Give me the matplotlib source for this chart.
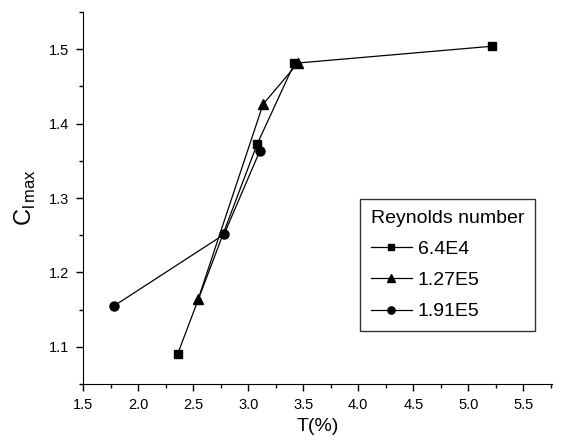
import matplotlib
matplotlib.use("Agg")
import matplotlib.pyplot as plt
from matplotlib.ticker import MultipleLocator

plt.rcParams["font.family"] = ["Liberation Sans", "DejaVu Sans"]
plt.rcParams["mathtext.fontset"] = "custom"
plt.rcParams["mathtext.rm"] = "Liberation Sans"

# thickness ratio T(%) vs maximum lift coefficient
t_64e4 = [2.36, 3.08, 3.42, 5.22]
cl_64e4 = [1.091, 1.372, 1.481, 1.504]

t_127e5 = [2.545, 3.135, 3.45]
cl_127e5 = [1.164, 1.426, 1.481]

t_191e5 = [1.78, 2.78, 3.105]
cl_191e5 = [1.155, 1.251, 1.363]

labels = ["6.4E4", "1.27E5", "1.91E5"]

fig = plt.figure(figsize=(5.62, 4.43), dpi=100)
ax = fig.add_axes([0.148, 0.133, 0.834, 0.84])

ax.plot(t_64e4, cl_64e4, "k-", marker="s", ms=6, lw=0.9, label=labels[0])
ax.plot(t_127e5, cl_127e5, "k-", marker="^", ms=6.5, lw=0.9, label=labels[1])
ax.plot(t_191e5, cl_191e5, "k-", marker="o", ms=6.5, lw=0.9, label=labels[2])

ax.set_xlim(1.5, 5.76)
ax.set_ylim(1.05, 1.55)
ax.xaxis.set_major_locator(MultipleLocator(0.5))
ax.xaxis.set_minor_locator(MultipleLocator(0.25))
ax.yaxis.set_major_locator(MultipleLocator(0.1))
ax.yaxis.set_minor_locator(MultipleLocator(0.05))
ax.tick_params(which="both", direction="out", width=1, labelsize=10.5)
ax.tick_params(which="major", length=5, pad=5)
ax.tick_params(which="minor", length=3)

for side in ["top", "right"]:
    ax.spines[side].set_visible(False)

ax.set_xlabel("T(%)", fontsize=14, labelpad=4)
ax.set_ylabel(r"C$_{\mathregular{l\,max}}$", fontsize=17, labelpad=8)

leg = ax.legend(title="Reynolds number", loc="lower left",
                bbox_to_anchor=(0.591, 0.1425), fontsize=14, title_fontsize=14,
                frameon=True, fancybox=False, edgecolor="black",
                handlelength=2.1, alignment="left", borderpad=0.55,
                labelspacing=0.7, handletextpad=0.3, markerscale=0.8,
                borderaxespad=0)
leg.get_frame().set_linewidth(1.0)

fig.savefig("out.png", dpi=100)
